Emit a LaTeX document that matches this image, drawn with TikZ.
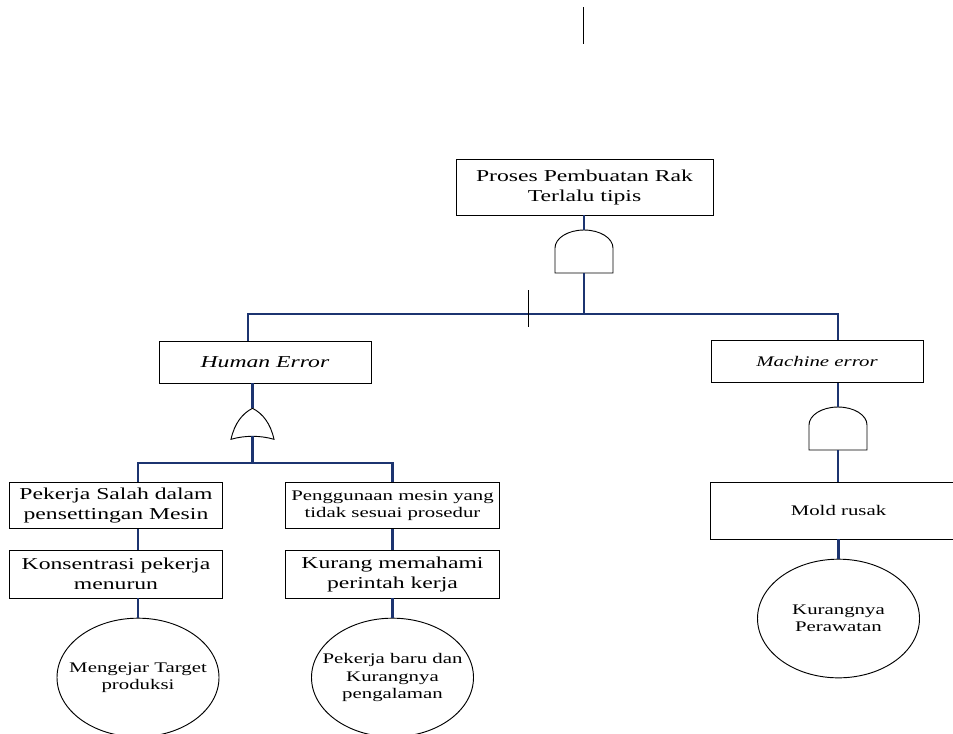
\documentclass[tikz,border=0pt]{standalone}
\usepackage{fontspec}
\setmainfont[FakeStretch=1.42]{Liberation Serif}
\usetikzlibrary{shapes.geometric}
\definecolor{linkblue}{RGB}{28,52,112}

\begin{document}
\begin{tikzpicture}[
    x=0.75pt, y=0.75pt,
    box/.style={rectangle, draw, line width=0.7pt, align=center, inner sep=0pt},
    basic/.style={ellipse, draw, line width=0.7pt, inner sep=0pt, minimum width=121.5pt, minimum height=89pt},
    big/.style={font=\fontsize{12.5pt}{15pt}\selectfont},
    small/.style={font=\fontsize{11pt}{13pt}\selectfont},
    inside/.style={label={[small, align=center]center:#1}},
    link/.style={draw=linkblue, line width=1.6pt},
    gate/.style={draw, line width=0.7pt, fill=white},
    andgate/.pic={
        \draw[gate] (-29,0) -- (-29,25) arc[start angle=180, end angle=0, x radius=21.75pt, y radius=13.5pt] -- (29,0) -- cycle;
        \coordinate (-in) at (0,43);
        \coordinate (-out) at (0,0);
    },
    orgate/.pic={
        \draw[gate] (-21.5,0) .. controls (-18,16) and (-10,26) .. (0,31) .. controls (10,26) and (18,16) .. (21.5,0) .. controls (8,4) and (-8,4) .. cycle;
        \coordinate (-in) at (0,31);
        \coordinate (-out) at (0,3);
    }
]
    \useasboundingbox (0,0) rectangle (953,-733);

    % top event
    \node[box, big, minimum width=192.75pt, minimum height=42pt] (top) at (584.5,-187) {Proses Pembuatan Rak\\Terlalu tipis};
    \pic (gTop) at (584,-273) {andgate};

    % second level
    \node[box, big, minimum width=159pt, minimum height=31.5pt] (human) at (265,-362) {\textit{Human Error}};
    \node[box, small, minimum width=159pt, minimum height=32pt] (machine) at (817,-361.5) {\textit{Machine error}};
    \pic (gHum) at (252.5,-439.3) {orgate};
    \pic (gMach) at (838,-450) {andgate};

    % causes
    \node[box, big, minimum width=160pt, minimum height=35pt] (salah) at (116,-505.5) {Pekerja Salah dalam\\pensettingan Mesin};
    \node[box, big, minimum width=160pt, minimum height=36pt] (konsen) at (116,-574) {Konsentrasi pekerja\\menurun};
    \node[box, small, minimum width=160pt, minimum height=35pt] (guna) at (392.5,-505.5) {Penggunaan mesin yang\\tidak sesuai prosedur};
    \node[box, big, minimum width=160pt, minimum height=36pt] (paham) at (392.5,-574) {Kurang memahami\\perintah kerja};
    \node[box, small, minimum width=192pt, minimum height=42.75pt] (mold) at (838.5,-510.5) {Mold rusak};

    % basic events
    \node[basic, inside={Mengejar Target\\produksi}] (target) at (138,-677.5) {};
    \node[basic, inside={Pekerja baru dan\\Kurangnya\\pengalaman}] (baru) at (392.5,-677.5) {};
    \node[basic, inside={Kurangnya\\Perawatan}] (rawat) at (838.5,-618.5) {};

    % connectors
    \coordinate (busL) at (248,-314);
    \coordinate (busR) at (838,-314);
    \coordinate (bus2L) at (138,-462.7);
    \coordinate (bus2R) at (392.5,-462.7);

    \draw[link] (gTop-in |- top.south) -- (gTop-in);
    \draw[link] (gTop-out) -- (gTop-out |- busL);
    \draw[link] (human.north -| busL) -- (busL) -- (busR) -- (machine.north -| busR);
    \draw[link] (human.south -| gHum-in) -- (gHum-in);
    \draw[link] (gHum-out) -- (gHum-out |- bus2L);
    \draw[link] (salah.north -| bus2L) -- (bus2L) -- (bus2R) -- (guna.north -| bus2R);
    \draw[link] (salah.south -| bus2L) -- (konsen.north -| bus2L);
    \draw[link] (konsen.south -| bus2L) -- (target.north);
    \draw[link] (guna.south) -- (paham.north);
    \draw[link] (paham.south) -- (baru.north);
    \draw[link] (machine.south -| gMach-in) -- (gMach-in);
    \draw[link] (gMach-out) -- (gMach-out |- mold.north);
    \draw[link] (mold.south) -- (rawat.north);

    % stray marks
    \draw[line width=0.6pt] (583,-7) -- (583,-44);
    \draw[line width=0.6pt] (528,-290) -- (528,-327);
\end{tikzpicture}
\end{document}
